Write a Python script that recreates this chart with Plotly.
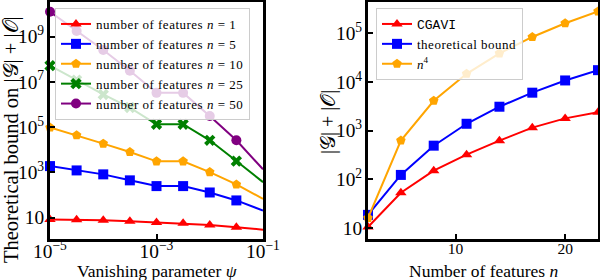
import plotly.graph_objects as go
from plotly.subplots import make_subplots

# ---- Left panel data ----
psi = [1e-5, 3.16e-5, 1e-4, 3.16e-4, 1e-3, 3.16e-3, 1e-2, 3.16e-2, 1e-1]
bound_n1 = [8.1, 8.0, 7.6, 6.9, 6.0, 5.6, 4.7, 3.7, 2.9]
bound_n5 = [1880, 1210, 810, 440, 245, 245, 128, 57, 20.4]
bound_n10 = [95000, 43300, 18500, 7870, 3040, 3040, 1020, 290, 67]
bound_n25 = [5.2e7, 1.19e7, 2.76e6, 7.3e5, 1.33e5, 1.33e5, 2.6e4, 3140, 367]
bound_n50 = [1.25e10, 1.77e9, 2.55e8, 3.08e7, 3.25e6, 3.25e6, 3.1e5, 2.6e4, 1350]
left_labels = ["1", "5", "10", "25", "50"]

# ---- Right panel data ----
n_features = [2, 5, 8, 11, 14, 17, 20, 23]
cgavi = [10.5, 53, 150, 320, 620, 1150, 1780, 2370]
theoretical = [18.6, 123, 490, 1380, 3090, 6000, 10700, 17400]
n4 = [n ** 4 for n in n_features]

FONT = "Liberation Serif, serif"
MONO = "Liberation Mono, monospace"
colors = ["#ff0000", "#0000ff", "#ffa500", "#008000", "#800080"]
symbols = ["triangle-up", "square", "pentagon", "x", "circle"]
SP = "letter-spacing:0.5px"

fig = make_subplots(rows=1, cols=2)

left_series = [bound_n1, bound_n5, bound_n10, bound_n25, bound_n50]
for vals, lab, c, s in zip(left_series, left_labels, colors, symbols):
    fig.add_trace(go.Scatter(
        x=psi, y=vals, mode="lines+markers",
        name=f"<span style='{SP}'>number of features <i>n</i> = {lab}</span>",
        line=dict(color=c, width=2),
        marker=dict(symbol=s, size=10, color=c, line=dict(width=0)),
        legend="legend", cliponaxis=False,
    ), row=1, col=1)

right_series = [(cgavi, f"<span style='font-family:{MONO}'>CGAVI</span>"),
                (theoretical, f"<span style='{SP}'>theoretical bound</span>"),
                (n4, "<i>n</i><sup>4</sup>")]
for (vals, lab), c, s in zip(right_series, colors[:3], symbols[:3]):
    fig.add_trace(go.Scatter(
        x=n_features, y=vals, mode="lines+markers", name=lab,
        line=dict(color=c, width=2),
        marker=dict(symbol=s, size=10, color=c, line=dict(width=0)),
        legend="legend2", cliponaxis=False,
    ), row=1, col=2)

axis_common = dict(showline=True, mirror=True, linecolor="black", linewidth=2.5,
                   ticks="inside", ticklen=5, tickwidth=2, tickcolor="black",
                   showgrid=False, zeroline=False, automargin=False,
                   tickfont=dict(family=FONT, size=15.5, color="black"))

ydom = [41 / 280, 278 / 280]
fig.update_xaxes(type="log", range=[-5, -1], dtick=2, tick0=1, exponentformat="power",
                 domain=[50 / 600, 263 / 600], ticklabelstandoff=-6, row=1, col=1, **axis_common)
fig.update_yaxes(type="log", range=[0.05, 10.53], dtick=2, tick0=1, exponentformat="power",
                 domain=ydom, row=1, col=1, **axis_common)
fig.update_xaxes(range=[2, 23], dtick=10, tick0=0, ticklabelstandoff=-6,
                 domain=[368 / 600, 598 / 600], row=1, col=2, **axis_common)
fig.update_yaxes(type="log", range=[0.774, 5.64], dtick=1, exponentformat="power",
                 domain=ydom, row=1, col=2, **axis_common)

legend_common = dict(bgcolor="rgba(255,255,255,0.8)", bordercolor="#cccccc", borderwidth=1,
                     font=dict(family=FONT, size=13, color="black"),
                     xanchor="left", yanchor="top", tracegroupgap=0, itemwidth=30)
fig.update_layout(
    template="none",
    width=600, height=280,
    margin=dict(l=0, r=0, t=0, b=0, autoexpand=False),
    paper_bgcolor="white", plot_bgcolor="white",
    legend=dict(x=55 / 600, y=1 - 8 / 280, **legend_common),
    legend2=dict(x=376 / 600, y=1 - 8 / 280, **legend_common),
)

annots = [
    dict(text="Vanishing parameter <i>ψ</i>", x=157 / 600, y=1 - 271 / 280, textangle=0, size=17.5),
    dict(text="Number of features <i>n</i>", x=483 / 600, y=1 - 271 / 280, textangle=0, size=17.5),
    dict(text="Theoretical bound on |𝒢| + |𝒪|", x=11 / 600, y=1 - 140 / 280, textangle=-90, size=20.5),
    dict(text="|𝒢| + |𝒪|", x=328 / 600, y=1 - 122 / 280, textangle=-90, size=20),
]
for a in annots:
    size = a.pop("size")
    fig.add_annotation(xref="paper", yref="paper", showarrow=False,
                       xanchor="center", yanchor="middle",
                       font=dict(family=FONT, size=size, color="black"), **a)

fig.write_html("out.html", config={"displayModeBar": False},
               post_script="document.body.style.margin='0px';")
